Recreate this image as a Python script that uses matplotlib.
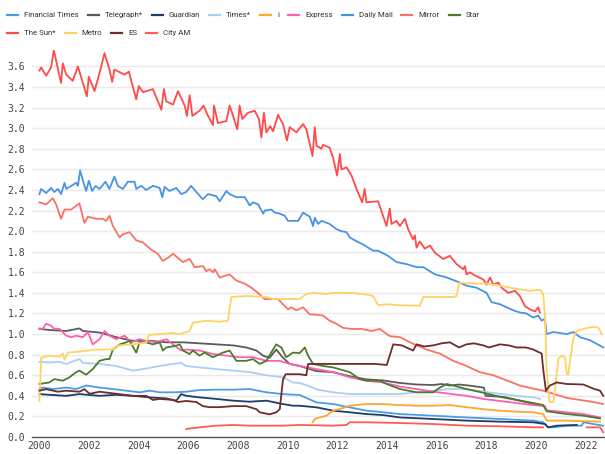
import matplotlib
matplotlib.use("Agg")
import matplotlib.pyplot as plt
from matplotlib.lines import Line2D

# circulation in millions
sun_year = [2000.0, 2000.07, 2000.27, 2000.47, 2000.58, 2000.74, 2000.87, 2000.94, 2001.08, 2001.34,
            2001.55, 2001.75, 2001.91, 2001.99, 2002.22, 2002.49, 2002.62, 2002.82, 2002.93, 2003.02,
            2003.43, 2003.6, 2003.9, 2004.0, 2004.17, 2004.57, 2004.91, 2005.01, 2005.11, 2005.38,
            2005.58, 2005.85, 2005.94, 2006.05, 2006.16, 2006.45, 2006.61, 2006.79, 2006.99, 2007.03,
            2007.19, 2007.53, 2007.66, 2007.8, 2007.97, 2008.06, 2008.17, 2008.4, 2008.67, 2008.84,
            2008.94, 2009.04, 2009.14, 2009.3, 2009.41, 2009.61, 2009.81, 2009.97, 2010.08, 2010.35,
            2010.48, 2010.62, 2010.75, 2011.0, 2011.09, 2011.16, 2011.36, 2011.42, 2011.69, 2011.83,
            2011.99, 2012.1, 2012.16, 2012.37, 2012.57, 2012.77, 2013.0, 2013.1, 2013.17, 2013.64,
            2013.98, 2014.11, 2014.18, 2014.38, 2014.52, 2014.72, 2014.85, 2015.05, 2015.12, 2015.19,
            2015.32, 2015.52, 2015.73, 2015.93, 2016.26, 2016.53, 2016.8, 2017.07, 2017.14, 2017.2,
            2017.34, 2017.54, 2017.88, 2018.01, 2018.15, 2018.28, 2018.48, 2018.62, 2018.88, 2019.15,
            2019.35, 2019.56, 2019.76, 2019.96, 2020.09, 2020.16]
sun_circ = [3.56, 3.59, 3.51, 3.59, 3.76, 3.58, 3.44, 3.63, 3.52, 3.46,
            3.6, 3.44, 3.31, 3.5, 3.36, 3.6, 3.73, 3.57, 3.45, 3.57,
            3.52, 3.55, 3.28, 3.41, 3.35, 3.38, 3.18, 3.38, 3.26, 3.23,
            3.36, 3.22, 3.12, 3.32, 3.12, 3.17, 3.22, 3.12, 3.03, 3.22,
            3.05, 3.07, 3.22, 3.12, 2.99, 3.22, 3.09, 3.15, 3.17, 3.09,
            2.91, 3.15, 2.96, 3.02, 2.97, 3.13, 3.04, 2.88, 3.01, 2.96,
            3.0, 3.04, 2.99, 2.73, 3.01, 2.83, 2.8, 2.84, 2.81, 2.71,
            2.54, 2.75, 2.6, 2.62, 2.54, 2.41, 2.28, 2.41, 2.28, 2.29,
            2.05, 2.22, 2.07, 2.1, 2.05, 2.12, 2.02, 1.92, 1.96, 1.84,
            1.9, 1.83, 1.86, 1.79, 1.73, 1.76, 1.68, 1.63, 1.66, 1.58,
            1.6, 1.57, 1.53, 1.48, 1.55, 1.48, 1.5, 1.45, 1.4, 1.42,
            1.37, 1.27, 1.24, 1.22, 1.26, 1.21]

mail_year = [2000.0, 2000.07, 2000.27, 2000.47, 2000.6, 2000.74, 2000.87, 2001.01, 2001.08, 2001.28,
             2001.48, 2001.55, 2001.64, 2001.75, 2001.88, 2001.99, 2002.12, 2002.26, 2002.42, 2002.66,
             2002.82, 2003.02, 2003.16, 2003.36, 2003.56, 2003.83, 2003.9, 2004.1, 2004.3, 2004.57,
             2004.84, 2004.95, 2005.04, 2005.24, 2005.51, 2005.71, 2005.91, 2006.11, 2006.32, 2006.58,
             2006.79, 2007.12, 2007.26, 2007.53, 2007.66, 2007.93, 2008.27, 2008.47, 2008.6, 2008.81,
             2009.01, 2009.07, 2009.34, 2009.48, 2009.68, 2009.88, 2010.01, 2010.42, 2010.62, 2010.89,
             2011.02, 2011.09, 2011.22, 2011.36, 2011.69, 2011.96, 2012.16, 2012.37, 2012.5, 2012.63,
             2013.04, 2013.44, 2013.64, 2014.04, 2014.38, 2014.78, 2015.19, 2015.46, 2015.93, 2016.4,
             2016.94, 2017.2, 2017.61, 2018.01, 2018.21, 2018.55, 2018.82, 2019.09, 2019.35, 2019.62,
             2019.89, 2020.09, 2020.23, 2020.36, 2020.43, 2020.7, 2021.24, 2021.51, 2021.77, 2022.18,
             2022.71]
mail_circ = [2.36, 2.41, 2.37, 2.42, 2.38, 2.41, 2.36, 2.47, 2.41, 2.44,
             2.47, 2.44, 2.59, 2.49, 2.39, 2.49, 2.39, 2.44, 2.41, 2.48,
             2.41, 2.53, 2.44, 2.41, 2.48, 2.48, 2.41, 2.44, 2.4, 2.44,
             2.42, 2.33, 2.43, 2.39, 2.42, 2.36, 2.38, 2.44, 2.38, 2.31,
             2.36, 2.34, 2.29, 2.39, 2.36, 2.33, 2.33, 2.25, 2.28, 2.26,
             2.17, 2.2, 2.21, 2.18, 2.17, 2.15, 2.1, 2.1, 2.18, 2.14,
             2.05, 2.13, 2.07, 2.1, 2.07, 2.02, 2.0, 1.99, 1.94, 1.92,
             1.87, 1.81, 1.81, 1.76, 1.7, 1.68, 1.65, 1.65, 1.58, 1.55,
             1.5, 1.47, 1.45, 1.4, 1.31, 1.29, 1.26, 1.23, 1.21, 1.2,
             1.16, 1.18, 1.13, 1.15, 1.0, 1.02, 1.0, 1.02, 0.97, 0.94,
             0.87]

mirror_year = [2000.0, 2000.27, 2000.54, 2000.67, 2000.87, 2001.01, 2001.28, 2001.61, 2001.81, 2001.95,
               2002.29, 2002.55, 2002.69, 2002.82, 2002.96, 2003.23, 2003.36, 2003.63, 2003.9, 2004.17,
               2004.5, 2004.77, 2004.97, 2005.17, 2005.38, 2005.58, 2005.78, 2006.05, 2006.25, 2006.59,
               2006.72, 2006.85, 2006.99, 2007.06, 2007.26, 2007.66, 2007.93, 2008.27, 2008.54, 2008.8,
               2009.07, 2009.34, 2009.61, 2009.81, 2010.01, 2010.15, 2010.35, 2010.62, 2010.89, 2011.09,
               2011.42, 2011.69, 2011.96, 2012.23, 2012.57, 2012.97, 2013.38, 2013.71, 2014.11, 2014.52,
               2014.92, 2015.59, 2016.13, 2016.67, 2017.2, 2017.74, 2018.28, 2018.82, 2019.35, 2019.89,
               2020.29, 2020.7, 2021.24, 2021.77, 2022.31, 2022.71]
mirror_circ = [2.28, 2.26, 2.32, 2.26, 2.12, 2.21, 2.21, 2.27, 2.08, 2.14,
               2.12, 2.12, 2.1, 2.15, 2.05, 1.94, 1.97, 1.99, 1.91, 1.89,
               1.82, 1.78, 1.71, 1.74, 1.78, 1.74, 1.7, 1.73, 1.65, 1.66,
               1.61, 1.63, 1.6, 1.63, 1.55, 1.58, 1.52, 1.49, 1.45, 1.4,
               1.34, 1.34, 1.34, 1.29, 1.24, 1.26, 1.23, 1.26, 1.19, 1.19,
               1.18, 1.13, 1.1, 1.06, 1.05, 1.05, 1.03, 1.05, 0.98, 0.97,
               0.92, 0.85, 0.81, 0.74, 0.69, 0.63, 0.6, 0.55, 0.5, 0.47,
               0.45, 0.42, 0.38, 0.36, 0.34, 0.32]

metro_year = [2000.0, 2000.07, 2000.4, 2000.81, 2000.94, 2001.01, 2001.14, 2001.61, 2002.29, 2002.96,
              2003.16, 2003.76, 2004.3, 2004.41, 2004.84, 2005.38, 2005.65, 2006.05, 2006.18, 2006.72,
              2007.26, 2007.59, 2007.73, 2008.33, 2009.14, 2009.41, 2010.48, 2010.75, 2011.02, 2011.56,
              2011.83, 2012.5, 2013.04, 2013.44, 2013.64, 2013.98, 2014.52, 2015.32, 2015.46, 2016.67,
              2016.8, 2016.91, 2017.47, 2018.01, 2018.55, 2019.22, 2019.76, 2020.16, 2020.29, 2020.36,
              2020.43, 2020.54, 2020.7, 2020.77, 2020.9, 2021.04, 2021.17, 2021.24, 2021.3, 2021.4,
              2021.5, 2021.64, 2021.91, 2022.18, 2022.31, 2022.51, 2022.65]
metro_circ = [0.35, 0.77, 0.79, 0.78, 0.81, 0.75, 0.82, 0.83, 0.85, 0.85,
              0.89, 0.9, 0.92, 0.99, 1.0, 1.01, 1.0, 1.03, 1.11, 1.13,
              1.12, 1.13, 1.36, 1.37, 1.36, 1.34, 1.34, 1.39, 1.4, 1.39,
              1.4, 1.4, 1.39, 1.37, 1.28, 1.29, 1.28, 1.275, 1.36, 1.36,
              1.37, 1.5, 1.49, 1.49, 1.47, 1.44, 1.42, 1.43, 1.39, 1.18,
              0.66, 0.34, 0.34, 0.47, 0.76, 0.79, 0.77, 0.61, 0.61, 0.79,
              0.95, 1.03, 1.05, 1.065, 1.07, 1.065, 1.0]

es_year = [2000.0, 2000.27, 2000.74, 2001.08, 2001.61, 2001.81, 2002.02, 2002.42, 2003.09, 2003.76,
           2004.3, 2004.57, 2004.84, 2005.38, 2005.58, 2005.91, 2006.32, 2006.58, 2006.85, 2007.26,
           2007.8, 2008.33, 2008.74, 2008.87, 2009.27, 2009.54, 2009.68, 2009.81, 2009.92, 2010.48,
           2010.75, 2010.82, 2011.5, 2012.5, 2013.5, 2013.99, 2014.25, 2014.6, 2015.05, 2015.19,
           2015.5, 2015.86, 2016.2, 2016.53, 2016.9, 2017.2, 2017.5, 2017.88, 2018.1, 2018.55,
           2018.9, 2019.22, 2019.6, 2019.89, 2020.23, 2020.29, 2020.4, 2020.56, 2020.83, 2021.24,
           2021.91, 2022.31, 2022.58, 2022.71]
es_circ = [0.45, 0.465, 0.44, 0.45, 0.44, 0.465, 0.42, 0.44, 0.42, 0.4,
           0.4, 0.36, 0.37, 0.36, 0.34, 0.35, 0.34, 0.3, 0.29, 0.29,
           0.3, 0.3, 0.27, 0.24, 0.22, 0.24, 0.27, 0.56, 0.61, 0.61,
           0.6, 0.71, 0.71, 0.71, 0.71, 0.7, 0.9, 0.89, 0.84, 0.9,
           0.88, 0.89, 0.91, 0.92, 0.87, 0.9, 0.91, 0.89, 0.87, 0.9,
           0.89, 0.87, 0.87, 0.85, 0.81, 0.66, 0.45, 0.5, 0.53, 0.515,
           0.51, 0.47, 0.45, 0.4]

telegraph_year = [2000.0, 2000.4, 2001.08, 2001.61, 2001.75, 2002.42, 2003.09, 2003.76, 2004.44, 2005.11,
                  2005.78, 2006.45, 2007.12, 2007.8, 2008.33, 2008.74, 2009.01, 2009.27, 2009.54, 2009.81,
                  2010.08, 2010.48, 2011.16, 2011.83, 2012.5, 2013.17, 2013.84, 2014.52, 2015.19, 2015.86,
                  2016.2, 2016.53, 2016.9, 2017.3, 2017.9, 2017.97, 2018.7, 2019.4, 2019.95, 2020.05]
telegraph_circ = [1.05, 1.04, 1.03, 1.055, 1.03, 1.015, 0.97, 0.935, 0.935, 0.92,
                  0.92, 0.91, 0.9, 0.89, 0.87, 0.84, 0.79, 0.77, 0.85, 0.77,
                  0.71, 0.69, 0.64, 0.63, 0.59, 0.56, 0.55, 0.525, 0.51, 0.505,
                  0.515, 0.5, 0.51, 0.5, 0.48, 0.4, 0.39, 0.35, 0.32, 0.31]

express_year = [2000.0, 2000.13, 2000.27, 2000.47, 2000.6, 2000.81, 2001.08, 2001.28, 2001.48, 2001.75,
                2001.95, 2002.15, 2002.42, 2002.62, 2002.82, 2003.09, 2003.43, 2003.7, 2004.03, 2004.3,
                2004.7, 2005.11, 2005.38, 2005.71, 2005.91, 2006.45, 2006.99, 2007.53, 2008.06, 2008.6,
                2009.14, 2009.68, 2010.08, 2010.48, 2011.83, 2012.5, 2013.17, 2013.84, 2014.52, 2015.19,
                2015.86, 2016.53, 2017.2, 2017.88, 2018.55, 2019.22, 2019.89, 2020.36, 2020.43, 2021.24,
                2021.91, 2022.58]
express_circ = [1.055, 1.05, 1.1, 1.08, 1.05, 1.05, 0.984, 0.97, 0.984, 0.97,
                1.02, 0.9, 0.95, 1.03, 0.984, 0.95, 0.984, 0.92, 0.95, 0.935,
                0.92, 0.95, 0.9, 0.84, 0.85, 0.84, 0.806, 0.79, 0.775, 0.775,
                0.74, 0.74, 0.71, 0.69, 0.63, 0.58, 0.547, 0.53, 0.49, 0.466,
                0.44, 0.42, 0.4, 0.37, 0.35, 0.33, 0.31, 0.3, 0.26, 0.24,
                0.223, 0.19]

star_year = [2000.0, 2000.4, 2000.6, 2000.94, 2001.21, 2001.48, 2001.61, 2001.88, 2002.15, 2002.42,
             2002.69, 2002.82, 2002.96, 2003.23, 2003.5, 2003.63, 2003.9, 2004.03, 2004.3, 2004.57,
             2004.84, 2004.97, 2005.11, 2005.51, 2005.65, 2005.78, 2006.05, 2006.18, 2006.45, 2006.65,
             2006.99, 2007.39, 2007.66, 2007.93, 2008.33, 2008.6, 2008.87, 2009.14, 2009.41, 2009.54,
             2009.74, 2009.94, 2010.21, 2010.48, 2010.69, 2010.82, 2011.02, 2011.42, 2011.83, 2012.5,
             2012.9, 2013.17, 2013.71, 2013.98, 2014.52, 2015.19, 2015.86, 2016.13, 2016.4, 2016.67,
             2017.2, 2017.88, 2018.55, 2019.22, 2019.89, 2020.29, 2020.43, 2021.24, 2021.91, 2022.58]
star_circ = [0.515, 0.53, 0.563, 0.547, 0.58, 0.63, 0.645, 0.605, 0.66, 0.74,
             0.757, 0.757, 0.85, 0.9, 0.92, 0.935, 0.82, 0.92, 0.92, 0.9,
             0.92, 0.84, 0.87, 0.887, 0.9, 0.84, 0.806, 0.84, 0.79, 0.82,
             0.775, 0.82, 0.84, 0.74, 0.74, 0.757, 0.71, 0.74, 0.85, 0.9,
             0.87, 0.775, 0.82, 0.815, 0.87, 0.79, 0.71, 0.69, 0.676, 0.63,
             0.563, 0.547, 0.547, 0.515, 0.466, 0.434, 0.434, 0.48, 0.515, 0.5,
             0.466, 0.43, 0.39, 0.36, 0.33, 0.31, 0.25, 0.223, 0.207, 0.18]

times_year = [2000.0, 2000.4, 2000.81, 2001.08, 2001.61, 2001.75, 2002.42, 2003.09, 2003.76, 2004.17,
              2004.84, 2005.38, 2005.71, 2005.91, 2006.45, 2007.12, 2007.8, 2008.47, 2009.14, 2009.81,
              2010.21, 2010.48, 2010.8, 2011.2, 2011.83, 2012.5, 2013.84, 2014.52, 2015.19, 2015.86,
              2016.53, 2017.2, 2017.88, 2018.55, 2019.22, 2019.89, 2020.16]
times_circ = [0.73, 0.725, 0.73, 0.71, 0.757, 0.72, 0.71, 0.69, 0.645, 0.66,
              0.69, 0.71, 0.72, 0.69, 0.676, 0.66, 0.645, 0.63, 0.6, 0.58,
              0.53, 0.525, 0.5, 0.46, 0.434, 0.417, 0.417, 0.417, 0.434, 0.45,
              0.466, 0.466, 0.44, 0.42, 0.4, 0.385, 0.37]

ft_year = [2000.0, 2000.13, 2000.54, 2001.08, 2001.48, 2001.88, 2002.42, 2002.96, 2003.5, 2004.03,
           2004.44, 2004.84, 2005.38, 2005.91, 2006.45, 2007.12, 2007.8, 2008.47, 2009.14, 2009.81,
           2010.48, 2011.16, 2011.83, 2012.5, 2013.17, 2013.84, 2014.52, 2015.86, 2017.2, 2018.55,
           2019.89, 2020.29, 2020.49, 2020.7, 2021.24, 2021.84, 2021.91, 2022.31, 2022.71]
ft_circ = [0.466, 0.48, 0.466, 0.48, 0.466, 0.5, 0.48, 0.466, 0.45, 0.434,
           0.45, 0.434, 0.434, 0.44, 0.456, 0.46, 0.46, 0.466, 0.434, 0.417,
           0.408, 0.336, 0.32, 0.288, 0.256, 0.24, 0.223, 0.207, 0.19, 0.175,
           0.159, 0.143, 0.094, 0.094, 0.11, 0.11, 0.143, 0.126, 0.11]

guardian_year = [2000.0, 2000.4, 2001.08, 2001.61, 2002.42, 2003.09, 2003.76, 2004.44, 2005.11, 2005.51,
                 2005.71, 2005.91, 2006.45, 2007.12, 2007.8, 2008.47, 2009.14, 2009.81, 2010.21, 2010.48,
                 2011.16, 2011.83, 2012.5, 2013.17, 2013.84, 2014.52, 2015.86, 2017.2, 2018.55, 2019.89,
                 2020.36, 2020.49, 2020.83, 2021.64]
guardian_circ = [0.417, 0.41, 0.4, 0.417, 0.4, 0.41, 0.4, 0.385, 0.375, 0.353,
                 0.417, 0.4, 0.385, 0.37, 0.353, 0.343, 0.353, 0.32, 0.304, 0.304,
                 0.288, 0.256, 0.24, 0.223, 0.213, 0.19, 0.175, 0.159, 0.149, 0.143,
                 0.126, 0.094, 0.11, 0.117]

i_year = [2011.0, 2011.09, 2011.29, 2011.56, 2011.83, 2012.1, 2012.5, 2013.17, 2013.84, 2014.52,
          2015.19, 2015.86, 2016.53, 2017.2, 2017.88, 2018.55, 2019.22, 2019.89, 2020.29, 2020.43,
          2021.24, 2022.58]
i_circ = [0.143, 0.175, 0.19, 0.207, 0.256, 0.272, 0.304, 0.32, 0.32, 0.31,
          0.304, 0.304, 0.31, 0.29, 0.27, 0.256, 0.246, 0.24, 0.223, 0.159,
          0.159, 0.149]

cityam_year = [2005.91, 2006.45, 2007.12, 2007.8, 2008.47, 2009.14, 2009.81, 2010.48, 2011.83, 2012.37,
               2012.5, 2013.17, 2014.52, 2015.86, 2017.2, 2018.55, 2019.89, 2020.29, None,
               2022.04, 2022.58, 2022.71]
cityam_circ = [0.078, 0.094, 0.11, 0.117, 0.11, 0.11, 0.11, 0.117, 0.11, 0.117,
               0.143, 0.143, 0.136, 0.126, 0.11, 0.104, 0.094, 0.094, None,
               0.094, 0.094, 0.045]

series = [
    ("Financial Times", ft_year, ft_circ, "#4d9be6"),
    ("Telegraph*", telegraph_year, telegraph_circ, "#5b5b5b"),
    ("Guardian", guardian_year, guardian_circ, "#1f3d62"),
    ("Times*", times_year, times_circ, "#a9cff4"),
    ("i", i_year, i_circ, "#ffa62f"),
    ("Express", express_year, express_circ, "#ff5fb0"),
    ("Daily Mail", mail_year, mail_circ, "#4a93e4"),
    ("Mirror", mirror_year, mirror_circ, "#fb7166"),
    ("Star", star_year, star_circ, "#4b7c2b"),
    ("The Sun*", sun_year, sun_circ, "#ff4a4a"),
    ("Metro", metro_year, metro_circ, "#ffd266"),
    ("ES", es_year, es_circ, "#6e2c2c"),
    ("City AM", cityam_year, cityam_circ, "#ff5a55"),
]

W, H = 605, 454
fig = plt.figure(figsize=(W / 100, H / 100), dpi=100)
ax = fig.add_axes([32 / W, (H - 437) / H, (W - 32) / W, (437 - 50) / H])

for name, xs, ys, col in series:
    xs = [float("nan") if v is None else v for v in xs]
    ys = [float("nan") if v is None else v for v in ys]
    ax.plot(xs, ys, color=col, lw=1.3, solid_joinstyle="round")

ax.set_xlim(1999.7, 2022.78)
ax.set_ylim(0, 3.76)
ax.set_yticks([i / 5 for i in range(19)])
ax.set_yticklabels([f"{i / 5:.1f}" for i in range(19)])
ax.set_xticks(range(2000, 2023, 2))
ax.grid(axis="y", color="#e9e9e9", lw=1)
ax.set_axisbelow(True)
for s in ["top", "right", "left"]:
    ax.spines[s].set_visible(False)
ax.spines["bottom"].set_color("#555555")
ax.spines["bottom"].set_linewidth(1)
ax.tick_params(axis="both", length=0, labelsize=7, colors="#444444",
               labelfontfamily="DejaVu Sans Mono")
ax.tick_params(axis="y", pad=5)
ax.tick_params(axis="x", pad=3)

# legend in two flowing rows
rows = [series[:9], series[9:]]
row_y = [15, 33]
fig.canvas.draw()
renderer = fig.canvas.get_renderer()
for row, yy in zip(rows, row_y):
    x = 7
    for name, _, _, col in row:
        fy = 1 - yy / H
        fig.add_artist(Line2D([x / W, (x + 11) / W], [fy, fy], color=col, lw=1.6,
                              transform=fig.transFigure))
        t = fig.text((x + 17) / W, fy, name, fontsize=5.7, family="Roboto",
                     color="#333333", va="center", ha="left")
        w = t.get_window_extent(renderer).width
        x = x + 17 + w + 9

fig.savefig("out.png", dpi=100)
